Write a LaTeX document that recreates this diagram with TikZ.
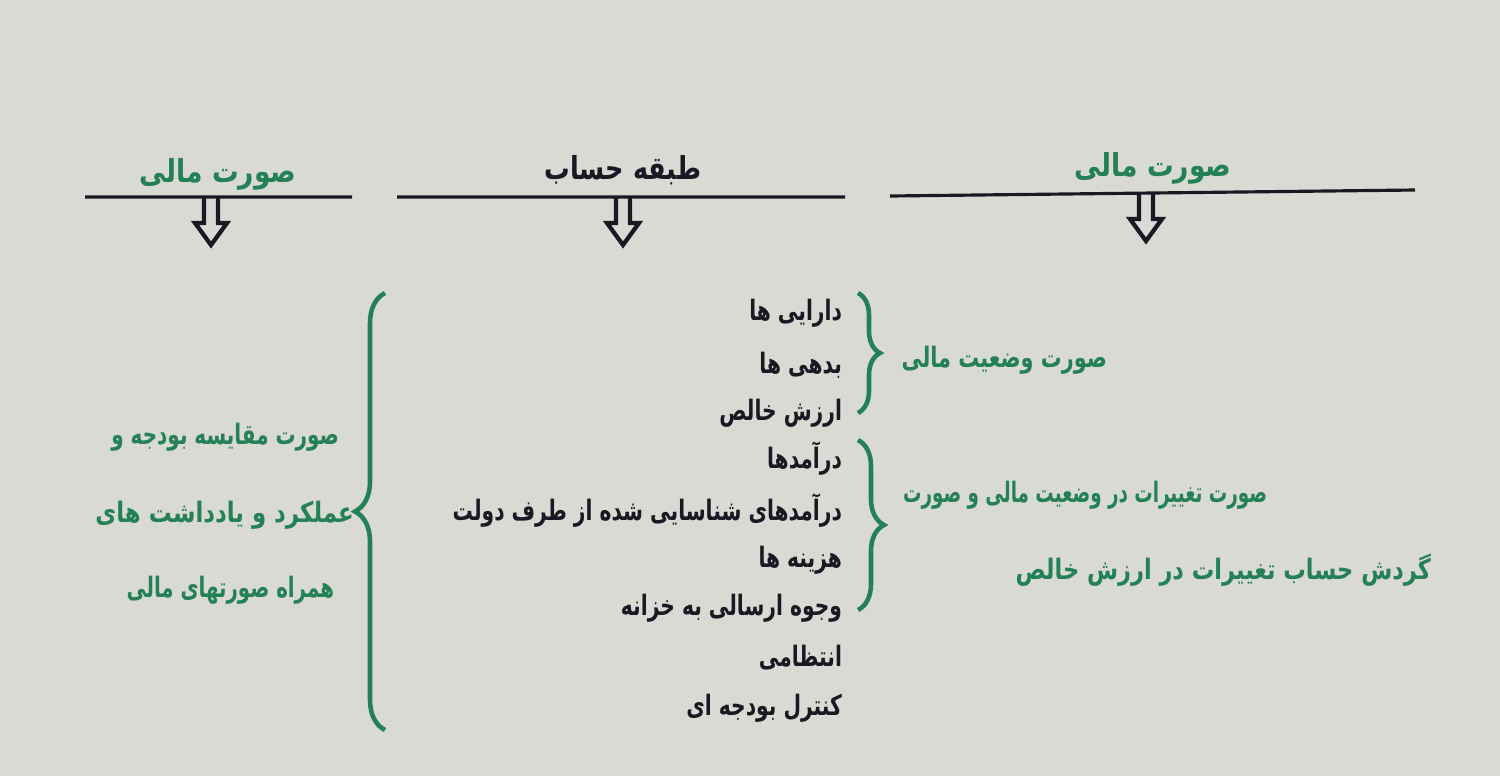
\documentclass[tikz,border=0pt]{standalone}
\usepackage{fontspec}
\newfontfamily\farsi[Script=Arabic]{DejaVu Sans}
\TeXXeTstate=1
\usetikzlibrary{decorations.pathreplacing}
\definecolor{sabz}{RGB}{36,128,86}
\definecolor{zamine}{RGB}{218,218,212}
\definecolor{siah}{RGB}{25,25,35}
\newcommand{\matn}[1]{\beginR #1\endR}
\tikzset{
  sarkhat/.style={transform shape,xscale=0.84,font=\farsi\bfseries\fontsize{9}{11}\selectfont},
  radif/.style={anchor=east,inner sep=0pt,transform shape,xscale=0.72,text=siah,font=\farsi\bfseries\fontsize{8}{10}\selectfont},
  sabztext/.style={anchor=east,inner sep=0pt,transform shape,xscale=0.74,text=sabz,font=\farsi\bfseries\fontsize{8}{10}\selectfont},
  akolad/.style={draw=sabz,line width=1.3pt,decorate,decoration={brace,amplitude=#1}},
  flesh/.style={draw=siah,line width=1.2pt,line join=miter}
}
\begin{document}
\begin{tikzpicture}[thick]
		\fill[zamine] (0,0) rectangle (15,-7.76);
		\useasboundingbox (0,0) rectangle (15,-7.76);
		\path
		(0.85,-1.97) coordinate (A1)
		(3.52,-1.97) coordinate (B1)
		(3.97,-1.97) coordinate (A2)
		(8.45,-1.97) coordinate (B2)
		(8.90,-1.96) coordinate (A3)
		(14.15,-1.90) coordinate (B3)
		;
		% header lines
		\draw[siah,line width=0.9pt]
		(A1)--(B1)
		(A2)--(B2)
		(A3)--(B3);
		\node[sarkhat,text=sabz] (sar1) at (2.18,-1.74) {\matn{صورت مالی}};
		\node[sarkhat,text=siah,xscale=0.96] (sar2) at (6.23,-1.70) {\matn{طبقه حساب}};
		\node[sarkhat,text=sabz] (sar3) at (11.53,-1.68) {\matn{صورت مالی}};
		% hollow arrows
		\foreach \x/\y in {2.11/-1.97, 6.23/-1.97, 11.46/-1.93}
		\draw[flesh] (\x-0.07,\y)--(\x-0.07,\y-0.26)--(\x-0.16,\y-0.26)
		--(\x,\y-0.48)--(\x+0.16,\y-0.26)--(\x+0.07,\y-0.26)--(\x+0.07,\y);
		% account classes
		\node[radif] (daraei) at (8.43,-3.13) {\matn{دارایی ها}};
		\node[radif] (bedehi) at (8.43,-3.65) {\matn{بدهی ها}};
		\node[radif] (arzesh) at (8.43,-4.13) {\matn{ارزش خالص}};
		\node[radif] (daramad) at (8.43,-4.58) {\matn{درآمدها}};
		\node[radif] (dolat) at (8.43,-5.10) {\matn{درآمدهای شناسایی شده از طرف دولت}};
		\node[radif] (hazine) at (8.43,-5.60) {\matn{هزینه ها}};
		\node[radif] (khazane) at (8.43,-6.08) {\matn{وجوه ارسالی به خزانه}};
		\node[radif] (entezami) at (8.43,-6.58) {\matn{انتظامی}};
		\node[radif] (budje) at (8.43,-7.08) {\matn{کنترل بودجه ای}};
		% braces
		\draw[akolad=0.30cm] (3.85,-7.30)--(3.85,-2.93);
		\draw[akolad=0.22cm] (8.58,-2.93)--(8.58,-4.13);
		\draw[akolad=0.26cm] (8.58,-4.40)--(8.58,-6.10);
		% statements
		\node[sabztext] (vaziat) at (11.08,-3.60) {\matn{صورت وضعیت مالی}};
		\node[sabztext,xscale=0.88] (taghirat) at (12.68,-4.95) {\matn{صورت تغییرات در وضعیت مالی و صورت}};
		\node[sabztext,xscale=1.08] (gardesh) at (14.32,-5.70) {\matn{گردش حساب تغییرات در ارزش خالص}};
		\node[sabztext,xscale=0.96] (moghayese) at (3.40,-4.37) {\matn{صورت مقایسه بودجه و}};
		\node[sabztext,xscale=1.1] (amalkard) at (3.55,-5.15) {\matn{عملکرد و یادداشت های}};
		\node[sabztext,xscale=0.95] (hamrah) at (3.35,-5.90) {\matn{همراه صورتهای مالی}};
\end{tikzpicture}
\end{document}
